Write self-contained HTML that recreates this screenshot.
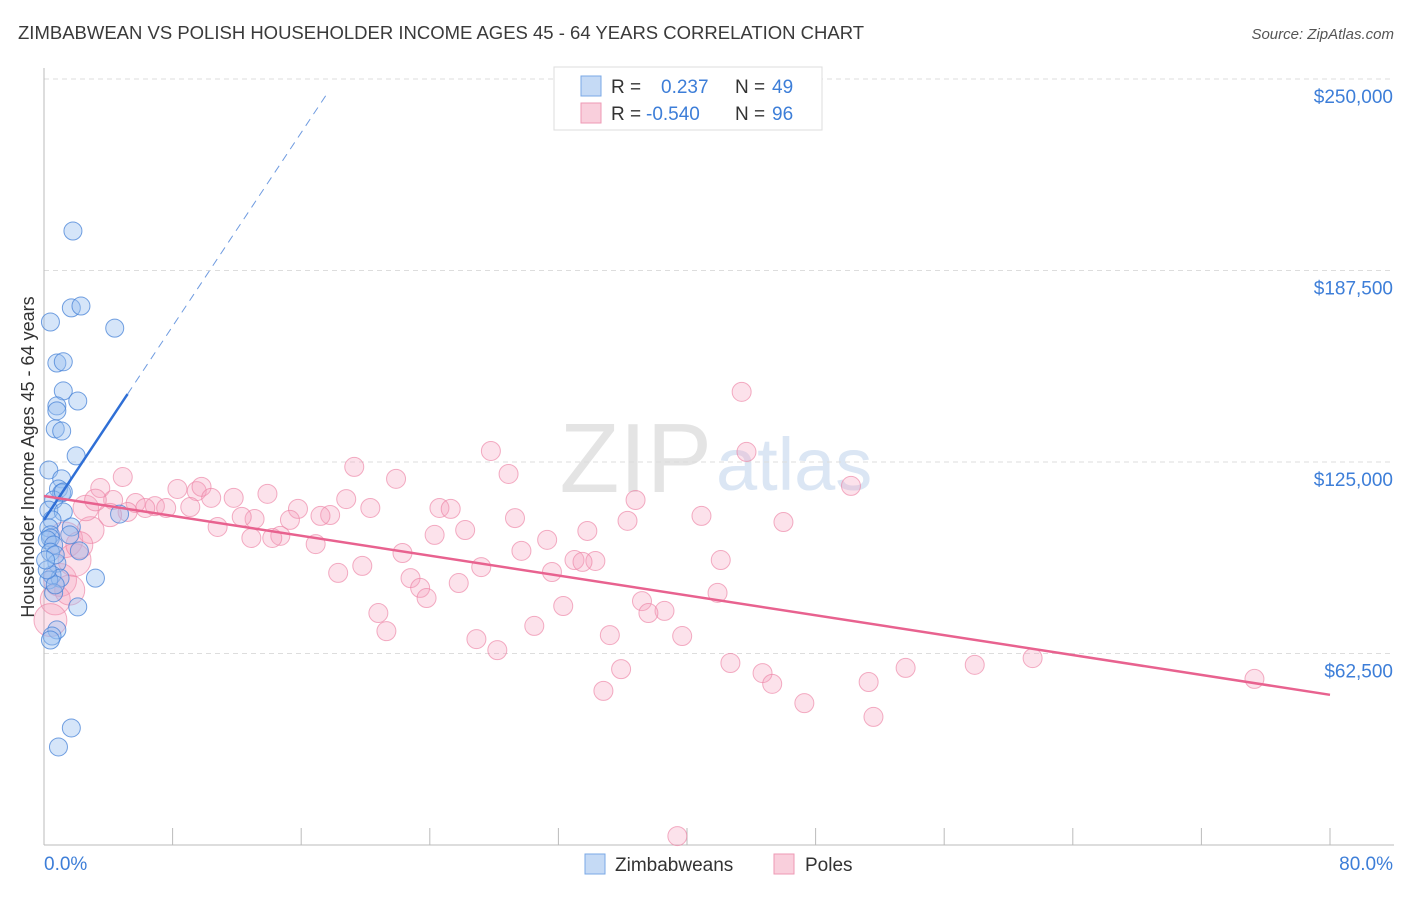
<!DOCTYPE html>
<html><head><meta charset="utf-8">
<style>
body{margin:0;background:#fff;font-family:"Liberation Sans",sans-serif;}
svg text{font-family:"Liberation Sans",sans-serif;}
</style></head>
<body>
<svg id="chart" width="1406" height="892" xmlns="http://www.w3.org/2000/svg">
<text x="18" y="39" font-size="18.5" fill="#3a3a3a">ZIMBABWEAN VS POLISH HOUSEHOLDER INCOME AGES 45 - 64 YEARS CORRELATION CHART</text>
<text x="1394" y="39" font-size="15" fill="#555" text-anchor="end" font-style="italic">Source: ZipAtlas.com</text>
<text x="712" y="492" font-size="98" fill="#e4e4e4" text-anchor="end" font-family="Liberation Serif">ZIP</text>
<text x="716" y="490" font-size="74" fill="#dbe6f4">atlas</text>
<g id="grid"></g>
<g id="axes"></g>
<g id="marks"></g>
<text transform="translate(34,457) rotate(-90)" font-size="18" fill="#333" text-anchor="middle">Householder Income Ages 45 - 64 years</text>
<g>
<rect x="554" y="67" width="268" height="63" fill="#fff" stroke="#ddd"/>
<rect x="581" y="76" width="20" height="20" fill="#c5daf5" stroke="#7aa8e6"/>
<rect x="581" y="103" width="20" height="20" fill="#f9cfdc" stroke="#ee9ab4"/>
<text x="611" y="93" font-size="19" fill="#333">R =</text>
<text x="661" y="93" font-size="19" fill="#3d7ed8">0.237</text>
<text x="735" y="93" font-size="19" fill="#333">N =</text>
<text x="772" y="93" font-size="19" fill="#3d7ed8">49</text>
<text x="611" y="120" font-size="19" fill="#333">R =</text>
<text x="646" y="120" font-size="19" fill="#3d7ed8">-0.540</text>
<text x="735" y="120" font-size="19" fill="#333">N =</text>
<text x="772" y="120" font-size="19" fill="#3d7ed8">96</text>
</g>
<g>
<rect x="585" y="854" width="20" height="20" fill="#c5daf5" stroke="#7aa8e6"/>
<text x="615" y="871" font-size="19" fill="#333">Zimbabweans</text>
<rect x="774" y="854" width="20" height="20" fill="#f9cfdc" stroke="#ee9ab4"/>
<text x="805" y="871" font-size="19" fill="#333">Poles</text>
</g>
</svg>
<script>
const yTicks=[62500,125000,187500,250000];
const yTickLabels=["$62,500","$125,000","$187,500","$250,000"];
const xTicks=[0,8,16,24,32,40,48,56,64,72,80];
const blueX=[1.8,1.7,2.3,0.4,4.4,0.8,1.2,1.2,2.1,0.8,0.7,1.1,0.8,2.0,0.3,1.1,0.9,1.1,0.6,0.3,1.2,4.7,0.5,0.3,0.4,0.4,0.2,0.6,1.7,2.2,0.4,0.8,0.5,3.2,1.0,0.3,0.6,2.1,0.8,0.5,0.4,1.7,0.9,1.2,0.7,0.2,1.6,0.7,0.1];
const blueY=[200400,175300,175900,170700,168700,157300,157700,148200,144900,143300,135800,135100,141700,127000,122400,119500,116200,114900,112600,109300,108700,108000,106100,103500,101200,100200,99600,97900,103800,96000,95600,92000,88100,87100,87100,86500,82300,77700,70200,68200,66900,38200,32000,115200,84900,89800,101200,94700,93000];
const pinkX=[43.4,27.8,43.7,19.3,28.9,21.9,4.9,50.2,3.5,9.5,8.3,9.8,13.9,36.8,18.8,6.9,11.8,10.4,5.7,4.3,7.6,9.1,15.8,20.3,24.6,25.3,6.3,5.2,13.1,17.8,15.3,17.2,12.3,29.3,40.9,36.3,46.0,10.8,26.2,33.8,14.7,12.9,14.2,24.3,16.9,31.3,29.7,22.3,42.1,33.0,34.3,33.5,19.8,27.2,31.6,18.3,22.8,25.8,23.4,23.8,41.9,37.2,32.3,20.8,38.6,37.6,30.5,21.3,35.2,39.7,26.9,28.2,42.7,35.9,44.7,53.6,57.9,61.5,45.3,34.8,51.3,47.3,51.6,75.3,39.4,1.3,1.0,0.7,1.9,2.9,2.6,2.2,4.1,3.2,1.6,0.4];
const pinkY=[147900,128600,128300,123400,121100,119500,120100,117200,116500,115500,116200,116900,114600,112600,112900,110600,113300,113300,111600,112600,110000,110300,109700,110000,110000,109700,110000,108700,106400,107700,106100,107400,107100,106700,107400,105800,105400,103800,102800,102500,100900,100200,100200,101200,98200,99600,96000,95300,93000,93000,92700,92400,91100,90700,89100,88800,87100,85500,83900,80600,82300,79600,78000,75700,76400,75700,71500,69800,68500,68200,67200,63600,59400,57400,56100,57800,58800,61000,52600,50300,53200,46300,41800,54200,2900,99600,86500,80000,93000,102800,110000,97900,107700,112600,83200,73400];
const pinkW=[1,1,1,1,1,1,1,1,1,1,1,1,1,1,1,1,1,1,1,1,1,1,1,1,1,1,1,1,1,1,1,1,1,1,1,1,1,1,1,1,1,1,1,1,1,1,1,1,1,1,1,1,1,1,1,1,1,1,1,1,1,1,1,1,1,1,1,1,1,1,1,1,1,1,1,1,1,1,1,1,1,1,1,1,1,3.5,3,2.5,3,2,1.8,2,1.5,1.3,2.5,3];
const blueTrend=[106100,7900];
const pinkTrend=[113900,-811];
const blueSolidEnd=[5.2];
const blueDashEnd=[17.6];

const NS="http://www.w3.org/2000/svg";
const X0=44,X1=1330,Y0=845,Y1=79;
function sx(v){return X0+(v/80)*(X1-X0);}
function sy(v){return Y0-(v/250000)*(Y0-Y1);}
function mk(tag,attrs,parent){const e=document.createElementNS(NS,tag);for(const k in attrs)e.setAttribute(k,attrs[k]);parent.appendChild(e);return e;}
const grid=document.getElementById('grid'),axes=document.getElementById('axes'),marks=document.getElementById('marks');
yTicks.forEach((t,i)=>{
  const l=mk('line',{x1:X0,x2:1394,y1:sy(t),y2:sy(t),stroke:'#ddd','stroke-dasharray':'5,4'},grid);
  
  
  const tx=mk('text',{x:1393,y:sy(t)+24,'font-size':19,fill:'#3d7ed8','text-anchor':'end'},axes);
  tx.textContent=yTickLabels[i];
  
  
});
const ax=mk('line',{x1:X0,x2:1394,y1:Y0,y2:Y0,stroke:'#bbb'},axes);


const ay=mk('line',{x1:X0,x2:X0,y1:68,y2:Y0,stroke:'#bbb'},axes);


xTicks.forEach(t=>{
  const l=mk('line',{x1:sx(t),x2:sx(t),y1:Y0-17,y2:Y0,stroke:'#bbb'},axes);
  
  
});
const xl0=mk('text',{x:44,y:870,'font-size':19,fill:'#3d7ed8'},axes);xl0.textContent='0.0%';


const xl1=mk('text',{x:1393,y:870,'font-size':19,fill:'#3d7ed8','text-anchor':'end'},axes);xl1.textContent='80.0%';



pinkX.forEach((x,i)=>{
  const c=mk('circle',{cx:sx(x),cy:sy(pinkY[i]),r:9.5*Math.sqrt(pinkW[i]),fill:'rgba(244,160,188,0.3)',stroke:'rgba(236,130,165,0.65)','stroke-width':1},marks);
  
  
});
blueX.forEach((x,i)=>{
  const c=mk('circle',{cx:sx(x),cy:sy(blueY[i]),r:9,fill:'rgba(150,190,240,0.4)',stroke:'rgba(70,130,215,0.75)','stroke-width':1},marks);
  
  
});
const bl=mk('line',{x1:sx(0),y1:sy(blueTrend[0]),x2:sx(blueSolidEnd[0]),y2:sy(blueTrend[0]+blueTrend[1]*blueSolidEnd[0]),stroke:'#2f6fd6','stroke-width':2.5},marks);


const bd=mk('line',{x1:sx(blueSolidEnd[0]),y1:sy(blueTrend[0]+blueTrend[1]*blueSolidEnd[0]),x2:sx(blueDashEnd[0]),y2:sy(blueTrend[0]+blueTrend[1]*blueDashEnd[0]),stroke:'#6f9be0','stroke-width':1,'stroke-dasharray':'8,6'},marks);


const pl=mk('line',{x1:sx(0),y1:sy(pinkTrend[0]),x2:sx(80),y2:sy(pinkTrend[0]+pinkTrend[1]*80),stroke:'#e8628f','stroke-width':2.5},marks);


</script>
</body></html>
